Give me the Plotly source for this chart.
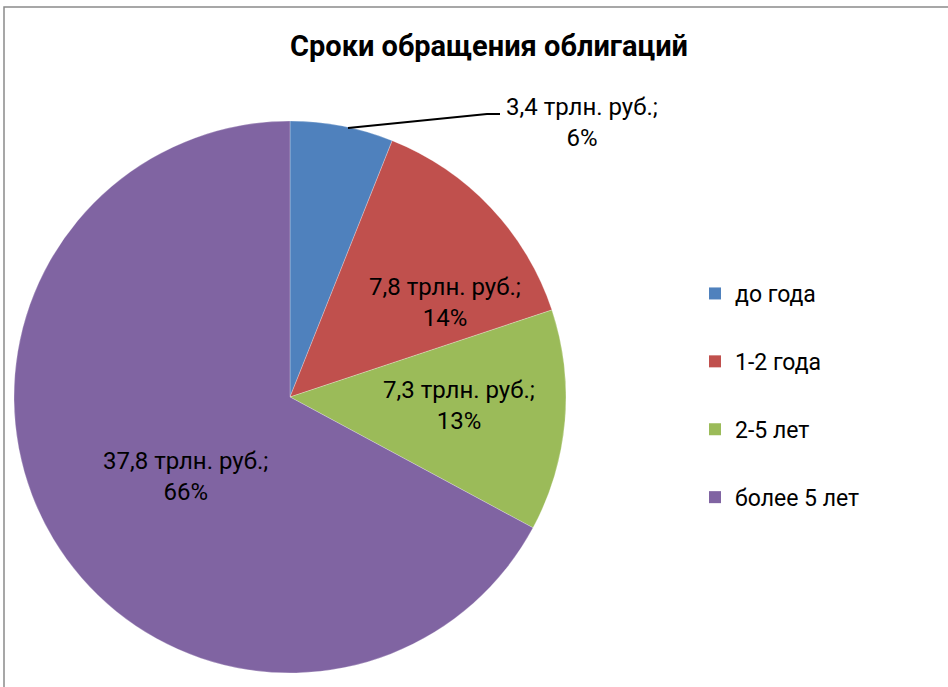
import plotly.graph_objects as go

categories = ["до года", "1-2 года", "2-5 лет", "более 5 лет"]
values = [3.4, 7.8, 7.3, 37.8]
percent_labels = ["6%", "14%", "13%", "66%"]
colors = ["#4F81BD", "#C0504D", "#9BBB59", "#8064A2"]
title = "Сроки обращения облигаций"

W, H = 948, 687
FONT = "Roboto"

fig = go.Figure()
fig.add_trace(go.Pie(
    labels=categories, values=values, sort=False, direction="clockwise",
    rotation=0, marker=dict(colors=colors, line=dict(width=0.5, color="rgba(255,255,255,0.5)")),
    textinfo="none", hoverinfo="label+value", showlegend=False,
    domain=dict(x=[14 / W, 566 / W], y=[14 / H, 566 / H]),
))

# legend entries
for i, (c, col) in enumerate(zip(categories, colors)):
    fig.add_trace(go.Scatter(
        x=[None], y=[None], mode="markers", name=c,
        marker=dict(symbol="square", size=15, color=col),
        legendgroup=f"g{i}", showlegend=True,
    ))

# data labels
label_pos = [(582, 122), (445, 302), (459, 405), (185, 476)]
for (px, py), v, p in zip(label_pos, values, percent_labels):
    txt = f"{str(v).replace('.', ',')} трлн. руб.;<br>{p}"
    fig.add_annotation(x=px / W, y=1 - py / H, xref="paper", yref="paper",
                       xanchor="center", yanchor="middle",
                       text=txt, showarrow=False, align="center",
                       font=dict(family=FONT, size=24, color="#000"))

# leader line for first slice
fig.add_shape(type="path", xref="paper", yref="paper",
              path=f"M {348 / W},{1 - 128 / H} L {487 / W},{1 - 114 / H} L {500 / W},{1 - 114 / H}",
              line=dict(color="#000", width=1.8))

# chart border
fig.add_shape(type="rect", xref="paper", yref="paper",
              x0=4 / W, y0=-0.05, x1=1.05, y1=1 - 7 / H,
              line=dict(color="#8a8a8a", width=1.5))

fig.update_layout(
    width=W, height=H,
    margin=dict(l=0, r=0, t=0, b=0),
    paper_bgcolor="white", plot_bgcolor="white",
    title=dict(text=f"<b>{title}</b>", x=489 / W, xanchor="center",
               y=1 - 46 / H, yanchor="middle",
               font=dict(family=FONT, size=29, color="#000")),
    xaxis=dict(visible=False), yaxis=dict(visible=False),
    legend=dict(x=695 / W, y=1 - 272 / H, xanchor="left", yanchor="top",
                traceorder="grouped", tracegroupgap=35,
                font=dict(family=FONT, size=23, color="#000"),
                itemsizing="constant"),
)

fig.write_html("out.html", post_script="document.body.style.margin='0';",
               config={"displayModeBar": False})
